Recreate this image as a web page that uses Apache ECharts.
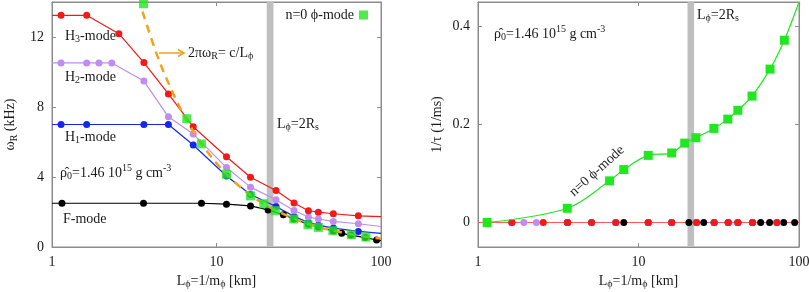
<!DOCTYPE html>
<html>
<head>
<meta charset="utf-8">
<script src="https://cdn.jsdelivr.net/npm/echarts@6/dist/echarts.min.js"></script>
<style>
  html, body { margin: 0; padding: 0; background: #fff; }
  #chart { width: 809px; height: 292px; }
</style>
</head>
<body>
<div id="chart"></div>
<script>
// 刻度
const omegaTicks = [0, 4, 8, 12];
const tauTicks = [0, 0.2, 0.4];
const bandL = [20.2, 22.2]; // L_phi = 2 R_s

// F-mode
const fL = [1.15, 3.6, 8.1, 11.5, 16.1, 20.6, 25.5, 29.6, 36.2, 41.6, 51.3, 57.7, 65.6, 80.3, 94];
const fOmega = [2.5, 2.5, 2.5, 2.45, 2.35, 2.12, 1.84, 1.6, 1.3, 1.14, 0.92, 0.78, 0.68, 0.54, 0.4];
const fTau = [0, 0, 0, 0, 0, 0, 0, 0, 0, 0, 0, 0, 0, 0, 0];
const fEdge = [2.5, 0.36];

// H1-mode
const h1L = [1.135, 1.625, 3.62, 5.1, 7.22, 11.5, 16.1, 23, 29.6, 36.2, 41.6, 51.3, 72.8];
const h1Omega = [7.0, 7.0, 7.0, 7.0, 5.83, 4.06, 3.0, 2.31, 1.75, 1.4, 1.25, 1.08, 0.89];
const h1Tau = [0, 0, 0, 0, 0, 0, 0, 0, 0, 0, 0, 0, 0];
const h1Edge = [7.0, 0.78];

// H2-mode
const h2L = [1.135, 1.625, 1.93, 2.31, 3.62, 5.1, 7.22, 11.5, 16.1, 23, 29.6, 36.2, 41.6, 51.3, 72.8];
const h2Omega = [10.52, 10.52, 10.52, 10.52, 9.48, 7.44, 6.46, 4.54, 3.42, 2.7, 2.09, 1.71, 1.6, 1.46, 1.33];
const h2Tau = [0, 0, 0, 0, 0, 0, 0, 0, 0, 0, 0, 0, 0, 0, 0];
const h2Edge = [10.52, 1.17];

// H3-mode
const h3L = [1.135, 1.625, 2.55, 3.62, 5.1, 7.22, 11.5, 16.1, 23, 29.6, 36.2, 41.6, 51.3, 72.8];
const h3Omega = [13.24, 13.24, 12.19, 10.54, 8.75, 6.87, 5.16, 3.99, 3.23, 2.51, 2.07, 1.99, 1.9, 1.78];
const h3Tau = [0, 0, 0, 0, 0, 0, 0, 0, 0, 0, 0, 0, 0, 0];
const h3Edge = [13.24, 1.74];

// n=0 phi-mode
const phiL = [1.14, 3.6, 6.6, 8.1, 11.5, 16.1, 19.4, 22.8, 29.5, 36, 41.6, 51, 66, 81];
const phiOmega = [null, 13.9, 7.33, 5.89, 4.16, 2.92, 2.47, 2.07, 1.6, 1.27, 1.12, 0.93, 0.7, 0.57];
const phiTau = [0, 0.029, 0.085, 0.108, 0.137, 0.142, 0.162, 0.173, 0.192, 0.211, 0.229, 0.258, 0.313, 0.372];
const phiTauEnd = 0.45;

// 2 pi omega_R = c / L_phi
const cL = [3.55, 4.5, 6, 8, 11, 15, 20, 30, 45, 70, 100];
const cOmega = [13.45, 10.6, 7.96, 5.97, 4.34, 3.18, 2.39, 1.59, 1.06, 0.68, 0.48];

const FONT = '"Liberation Serif", "DejaVu Serif", serif';
const TXT = '#1a1a1a';
const AX = '#8c8c8c';
const RED = '#f01a1a', PURPLE = '#c08cf0', BLUE = '#1428e6', BLACK = '#000', GREEN = '#22e622', ORANGE = '#f5a21a';
const PHI = 'n=0 ϕ-mode';

const sub = { font: '10px ' + FONT, fill: TXT, color: TXT, fontFamily: FONT, fontSize: 10, padding: [7, 0, 0, 0] };
const sup = { font: '10px ' + FONT, fill: TXT, color: TXT, fontFamily: FONT, fontSize: 10, padding: [0, 0, 9, 0] };

function withEdges(xs, ys, edge) {
  const d = xs.map((x, i) => [x, ys[i]]);
  d.unshift({ value: [1, edge[0]], symbol: 'none' });
  d.push({ value: [100, edge[1]], symbol: 'none' });
  return d;
}

function xAxes(gi) {
  const base = {
    type: 'log', logBase: 10, min: 1, max: 100, gridIndex: gi,
    splitLine: { show: false },
    minorTick: { show: false },
    axisLine: { onZero: false, lineStyle: { color: AX } },
    axisTick: { inside: true, length: 4, lineStyle: { color: AX } }
  };
  return [
    Object.assign({}, base, {
      position: 'bottom',
      axisLabel: { margin: 8, fontFamily: FONT, fontSize: 14, color: TXT },
      name: 'L{s|ϕ}=1/m{s|ϕ} [km]', nameLocation: 'middle', nameGap: 23,
      nameTextStyle: { fontFamily: FONT, fontSize: 14, color: TXT, rich: { s: sub } }
    }),
    Object.assign({}, base, { position: 'top', axisLabel: { show: false } })
  ];
}

function yAxes(gi, min, max, interval, ticks, name, nameGap, fmt) {
  const base = {
    type: 'value', gridIndex: gi, min: min, max: max, interval: interval,
    splitLine: { show: false },
    axisLine: { show: true, lineStyle: { color: AX } },
    axisTick: { inside: true, length: 4, customValues: ticks, lineStyle: { color: AX } }
  };
  return [
    Object.assign({}, base, {
      position: 'left',
      axisLabel: {
        margin: 8, fontFamily: FONT, fontSize: 14, color: TXT, customValues: ticks,
        formatter: fmt
      },
      name: name, nameLocation: 'middle', nameGap: nameGap, nameRotate: 90,
      nameTextStyle: { fontFamily: FONT, fontSize: 14, color: TXT, rich: { s: sub } }
    }),
    Object.assign({}, base, { position: 'right', axisLabel: { show: false } })
  ];
}

function tickFmt(ticks) {
  return function (v) {
    for (const t of ticks) if (Math.abs(v - t) < 1e-6) return String(t);
    return '';
  };
}

function modeLine(name, color, data, xi, yi, lineColor) {
  return {
    name: name, type: 'line', xAxisIndex: xi, yAxisIndex: yi, data: data,
    symbol: 'circle', symbolSize: 7, showAllSymbol: true,
    itemStyle: { color: color }, lineStyle: { color: lineColor || color, width: 1.2 },
    z: 3
  };
}

function note(x, y, text, extra) {
  return Object.assign({
    type: 'text', x: x, y: y, z: 20,
    style: {
      text: text, font: '14px ' + FONT, fill: TXT,
      align: 'left', verticalAlign: 'middle', textAlign: 'left', textVerticalAlign: 'middle',
      rich: { s: sub, p: sup }
    }
  }, extra || {});
}

const rhoText = 'ρ̂{s|0}=1.46 10{p|15} g cm{p|-3}';

const myChart = echarts.init(document.getElementById('chart'), null, { renderer: 'canvas' });
myChart.setOption({
  animation: false,
  backgroundColor: '#fff',
  grid: [
    { left: 52, right: 428, top: 2, bottom: 45, show: true, borderColor: AX, borderWidth: 1, containLabel: false, outerBoundsMode: 'none' },
    { left: 478, right: 10, top: 2, bottom: 45, show: true, borderColor: AX, borderWidth: 1, containLabel: false, outerBoundsMode: 'none' }
  ],
  xAxis: xAxes(0).concat(xAxes(1)),
  yAxis: yAxes(0, 0, 14, 4, omegaTicks, 'ω{s|R} (kHz)', 33, tickFmt(omegaTicks))
    .concat(yAxes(1, -0.05, 0.45, 0.05, tauTicks, '1/τ (1/ms)', 34, tickFmt(tauTicks))),
  legend: {
    data: [PHI], right: 441, top: 8, padding: 0, align: 'right', icon: 'rect',
    itemWidth: 9, itemHeight: 9, selectedMode: false,
    textStyle: { fontFamily: FONT, fontSize: 14, color: TXT }
  },
  series: [
    // 左图
    Object.assign(modeLine('F-mode', BLACK, withEdges(fL, fOmega, fEdge), 0, 0), {
      markArea: {
        silent: true, itemStyle: { color: '#bfbfbf' },
        data: [[{ xAxis: bandL[0] }, { xAxis: bandL[1] }]]
      }
    }),
    modeLine('H1-mode', BLUE, withEdges(h1L, h1Omega, h1Edge), 0, 0),
    modeLine('H2-mode', PURPLE, withEdges(h2L, h2Omega, h2Edge), 0, 0),
    modeLine('H3-mode', RED, withEdges(h3L, h3Omega, h3Edge), 0, 0),
    {
      name: 'c/L', type: 'line', xAxisIndex: 0, yAxisIndex: 0, smooth: 0.3,
      data: cL.map((x, i) => [x, cOmega[i]]), symbol: 'none',
      lineStyle: { color: ORANGE, width: 2.5, type: [8, 6] }, z: 4
    },
    {
      name: PHI, type: 'scatter', xAxisIndex: 0, yAxisIndex: 0,
      data: phiL.map((x, i) => [x, phiOmega[i]]).filter(p => p[1] != null),
      symbol: 'rect', symbolSize: 9, itemStyle: { color: GREEN }, z: 5
    },
    // 右图
    Object.assign(modeLine('F-mode τ', BLACK, withEdges(fL, fTau, [0, 0]), 2, 2), {
      markArea: {
        silent: true, itemStyle: { color: '#bfbfbf' },
        data: [[{ xAxis: bandL[0] }, { xAxis: bandL[1] }]]
      }
    }),
    modeLine('H1-mode τ', BLUE, withEdges(h1L, h1Tau, [0, 0]), 2, 2),
    modeLine('H2-mode τ', PURPLE, withEdges(h2L, h2Tau, [0, 0]), 2, 2),
    modeLine('H3-mode τ', RED, withEdges(h3L, h3Tau, [0, 0]), 2, 2, '#ff5c5c'),
    {
      name: PHI, type: 'line', xAxisIndex: 2, yAxisIndex: 2, smooth: 0.35,
      data: phiL.map((x, i) => [x, phiTau[i]]).concat([{ value: [100, phiTauEnd], symbol: 'none' }]),
      symbol: 'rect', symbolSize: 9, showAllSymbol: true,
      itemStyle: { color: GREEN }, lineStyle: { color: GREEN, width: 1.2 }, z: 5
    }
  ],
  graphic: [
    note(65, 36, 'H{s|3}-mode'),
    note(65, 77, 'H{s|2}-mode'),
    note(65, 137, 'H{s|1}-mode'),
    note(60, 173, rhoText),
    note(63, 219, 'F-mode'),
    note(188, 53, '2πω{s|R}= c/L{s|ϕ}'),
    note(277, 124, 'L{s|ϕ}=2R{s|s}'),
    note(494, 34, rhoText),
    note(697, 15, 'L{s|ϕ}=2R{s|s}'),
    note(597, 171, PHI, { rotation: 42 * Math.PI / 180, style: {
      text: PHI, font: '14px ' + FONT, fill: TXT,
      align: 'center', verticalAlign: 'middle', textAlign: 'center', textVerticalAlign: 'middle'
    } }),
    { type: 'line', z: 20, shape: { x1: 159, y1: 53, x2: 183, y2: 53 }, style: { stroke: ORANGE, lineWidth: 1.5 } },
    { type: 'polyline', z: 20, shape: { points: [[178, 49.5], [184, 53], [178, 56.5]] }, style: { stroke: ORANGE, lineWidth: 1.5, fill: null } }
  ]
});

window.onresize = function () {
  myChart.resize();
};
</script>
</body>
</html>
